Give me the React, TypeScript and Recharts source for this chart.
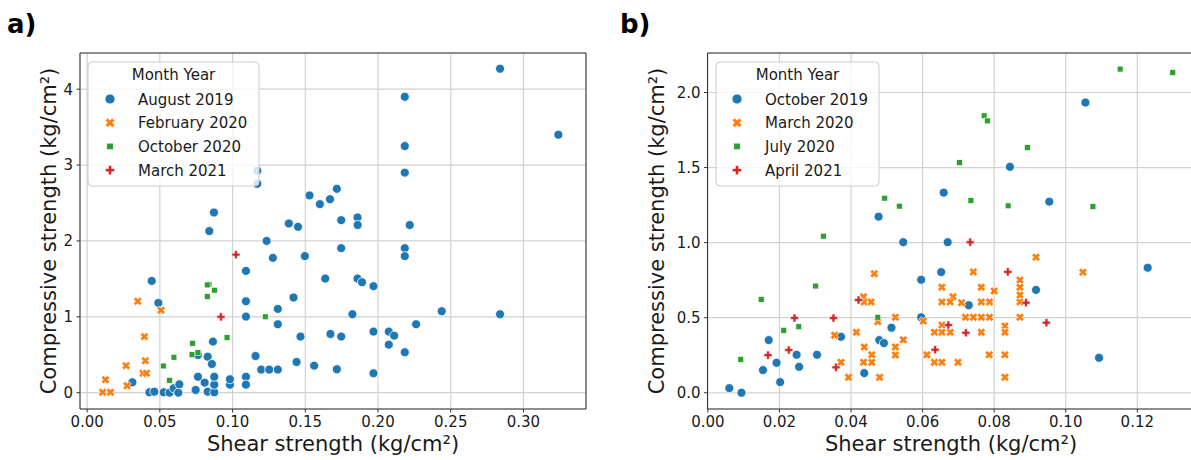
import { CartesianGrid, ReferenceArea, Scatter, ScatterChart, XAxis, YAxis } from 'recharts'

const FONT = '"DejaVu Sans", "Noto Sans", sans-serif'

const BLUE = '#1f77b4'
const ORANGE = '#ff7f0e'
const GREEN = '#2ca02c'
const RED = '#d62728'

type Pt = [number, number]
type Kind = 'circle' | 'x' | 'square' | 'plus'

// panel a — shear (x) vs compressive (y), kg/cm²
const AUG_2019: Pt[] = [
  [0.2839, 4.27], [0.324, 3.4], [0.2184, 3.9], [0.2184, 3.25], [0.2184, 2.9],
  [0.117, 2.925], [0.117, 2.753], [0.0872, 2.375], [0.084, 2.13], [0.1387, 2.23],
  [0.145, 2.186], [0.1529, 2.6], [0.16, 2.485], [0.167, 2.55], [0.1717, 2.687],
  [0.1747, 2.274], [0.1859, 2.31], [0.186, 2.21], [0.2218, 2.21], [0.1234, 2.0],
  [0.1277, 1.777], [0.1497, 1.8], [0.1092, 1.605], [0.0444, 1.473], [0.049, 1.183],
  [0.1092, 1.205], [0.1092, 1.003], [0.1311, 1.104], [0.1311, 0.902], [0.1419, 1.254],
  [0.1467, 0.739], [0.144, 0.405], [0.1158, 0.484], [0.1197, 0.304], [0.1252, 0.304],
  [0.1311, 0.304], [0.0311, 0.137], [0.0428, 0.005], [0.0462, 0.013], [0.0526, 0.005],
  [0.0567, 0.0], [0.0595, 0.058], [0.0627, 0.0], [0.0634, 0.11], [0.0746, 0.036],
  [0.0762, 0.21], [0.0808, 0.132], [0.0829, 0.013], [0.0874, 0.005], [0.0874, 0.106],
  [0.0874, 0.21], [0.0829, 0.475], [0.0762, 0.497], [0.0858, 0.378], [0.0865, 0.673],
  [0.0982, 0.106], [0.0982, 0.177], [0.1092, 0.21], [0.1092, 0.106], [0.1747, 1.905],
  [0.2184, 1.905], [0.2184, 1.8], [0.1637, 1.504], [0.1859, 1.504], [0.189, 1.456],
  [0.1969, 1.404], [0.1824, 1.034], [0.2438, 1.074], [0.2839, 1.034], [0.2262, 0.902],
  [0.1969, 0.805], [0.2074, 0.805], [0.2111, 0.752], [0.2074, 0.633], [0.2184, 0.533],
  [0.1673, 0.774], [0.1747, 0.739], [0.1561, 0.356], [0.1717, 0.309], [0.1969, 0.256],
]
const FEB_2020: Pt[] = [
  [0.0348, 1.205], [0.0508, 1.087], [0.0394, 0.739], [0.04, 0.422], [0.0385, 0.256],
  [0.0408, 0.256], [0.0268, 0.356], [0.0275, 0.092], [0.0126, 0.172], [0.0107, 0.005],
  [0.016, 0.005],
]
const OCT_2020: Pt[] = [
  [0.0838, 1.43], [0.0826, 1.42], [0.0876, 1.351], [0.0826, 1.267], [0.1225, 1.0],
  [0.0524, 0.352], [0.0567, 0.163], [0.0597, 0.467], [0.0725, 0.651], [0.0721, 0.502],
  [0.0762, 0.528], [0.0962, 0.726],
]
const MAR_2021: Pt[] = [[0.1023, 1.82], [0.092, 1.0]]

// panel b
const OCT_2019: Pt[] = [
  [0.0477, 1.173], [0.0659, 1.333], [0.1055, 1.933], [0.0844, 1.505], [0.0954, 1.273],
  [0.0546, 1.003], [0.0652, 0.804], [0.0596, 0.753], [0.0596, 0.503], [0.0513, 0.433],
  [0.0372, 0.373], [0.0479, 0.351], [0.0492, 0.331], [0.017, 0.351], [0.0154, 0.151],
  [0.0192, 0.2], [0.0202, 0.071], [0.0248, 0.253], [0.0255, 0.173], [0.0305, 0.253],
  [0.0437, 0.131], [0.006, 0.031], [0.0094, 0.0], [0.067, 1.003], [0.1229, 0.833],
  [0.0917, 0.685], [0.0729, 0.583], [0.1093, 0.233],
]
const MAR_2020: Pt[] = [
  [0.0465, 0.793], [0.0435, 0.64], [0.0437, 0.605], [0.0456, 0.605], [0.0475, 0.473],
  [0.0524, 0.503], [0.0602, 0.478], [0.0415, 0.403], [0.0354, 0.383], [0.0546, 0.353],
  [0.0524, 0.305], [0.0524, 0.251], [0.0437, 0.305], [0.0458, 0.253], [0.0435, 0.203],
  [0.0458, 0.203], [0.0372, 0.203], [0.0393, 0.103], [0.048, 0.103], [0.0612, 0.253],
  [0.0633, 0.203], [0.0633, 0.403], [0.0917, 0.903], [0.1048, 0.803], [0.0742, 0.805],
  [0.0654, 0.703], [0.0685, 0.64], [0.0764, 0.703], [0.08, 0.678], [0.0872, 0.751],
  [0.0872, 0.703], [0.0872, 0.651], [0.0872, 0.605], [0.0654, 0.605], [0.0677, 0.605],
  [0.0709, 0.6], [0.0764, 0.605], [0.0787, 0.605], [0.072, 0.503], [0.0742, 0.503],
  [0.0764, 0.503], [0.0787, 0.503], [0.0872, 0.503], [0.0654, 0.451], [0.0654, 0.403],
  [0.0677, 0.403], [0.0764, 0.403], [0.083, 0.445], [0.083, 0.403], [0.0654, 0.203],
  [0.0699, 0.203], [0.0786, 0.253], [0.083, 0.253], [0.083, 0.103],
]
const JUL_2020: Pt[] = [
  [0.0494, 1.296], [0.0535, 1.243], [0.1152, 2.156], [0.1299, 2.133], [0.0772, 1.845],
  [0.0781, 1.811], [0.0893, 1.633], [0.0703, 1.533], [0.0735, 1.28], [0.0839, 1.245],
  [0.1076, 1.24], [0.0323, 1.043], [0.0301, 0.711], [0.0149, 0.622], [0.0475, 0.503],
  [0.0212, 0.416], [0.0254, 0.44], [0.0092, 0.222],
]
const APR_2021: Pt[] = [
  [0.0421, 0.618], [0.0242, 0.498], [0.0351, 0.498], [0.0635, 0.287], [0.0358, 0.169],
  [0.0226, 0.285], [0.0168, 0.251], [0.0733, 1.003], [0.0838, 0.805], [0.0889, 0.6],
  [0.0946, 0.467], [0.0672, 0.451], [0.0721, 0.4],
]

const X_TICKS_A = [0, 0.05, 0.1, 0.15, 0.2, 0.25, 0.3]
const Y_TICKS_A = [0, 1, 2, 3, 4]
const X_TICKS_B = [0, 0.02, 0.04, 0.06, 0.08, 0.1, 0.12]
const Y_TICKS_B = [0, 0.5, 1, 1.5, 2]

type Series = { name: string; color: string; kind: Kind; data: Pt[] }

const SERIES_A: Series[] = [
  { name: 'August 2019', color: BLUE, kind: 'circle', data: AUG_2019 },
  { name: 'February 2020', color: ORANGE, kind: 'x', data: FEB_2020 },
  { name: 'October 2020', color: GREEN, kind: 'square', data: OCT_2020 },
  { name: 'March 2021', color: RED, kind: 'plus', data: MAR_2021 },
]
const SERIES_B: Series[] = [
  { name: 'October 2019', color: BLUE, kind: 'circle', data: OCT_2019 },
  { name: 'March 2020', color: ORANGE, kind: 'x', data: MAR_2020 },
  { name: 'July 2020', color: GREEN, kind: 'square', data: JUL_2020 },
  { name: 'April 2021', color: RED, kind: 'plus', data: APR_2021 },
]

function crossPath(h: number, w: number, rot: number) {
  const pts = [
    [w, h], [w, w], [h, w], [h, -w], [w, -w], [w, -h],
    [-w, -h], [-w, -w], [-h, -w], [-h, w], [-w, w], [-w, h],
  ]
  const c = Math.cos(rot)
  const s = Math.sin(rot)
  return 'M' + pts.map(([x, y]) => `${(x * c - y * s).toFixed(2)},${(x * s + y * c).toFixed(2)}`).join('L') + 'Z'
}

function Glyph({ kind, color, x, y, k = 1 }: { kind: Kind; color: string; x: number; y: number; k?: number }) {
  if (kind === 'circle') {
    return <circle cx={x} cy={y} r={4.5 * k} fill={color} stroke="#fff" strokeWidth={0.8} />
  }
  if (kind === 'square') {
    const s = 5.8 * k
    return <rect x={x - s / 2} y={y - s / 2} width={s} height={s} fill={color} stroke="#fff" strokeWidth={0.6} />
  }
  const d = kind === 'x' ? crossPath(4.4 * k, 1.6 * k, Math.PI / 4) : crossPath(4.1 * k, 1.45 * k, 0)
  return <path transform={`translate(${x},${y})`} d={d} fill={color} stroke="#fff" strokeWidth={0.6} />
}

function Panel({
  series, xDomain, yDomain, xTicks, yTicks, xFmt, yFmt, width, margin,
}: {
  series: Series[]
  xDomain: [number, number]
  yDomain: [number, number]
  xTicks: number[]
  yTicks: number[]
  xFmt: (v: number) => string
  yFmt: (v: number) => string
  width: number
  margin: { top: number; right: number; bottom: number; left: number }
}) {
  const tick = { fill: '#1a1a1a', fontSize: 15, fontFamily: FONT }
  return (
    <ScatterChart width={width} height={460} margin={margin}>
      <CartesianGrid stroke="#d2d2d2" strokeWidth={1.2} />
      <XAxis
        type="number"
        dataKey="x"
        domain={xDomain}
        allowDataOverflow
        ticks={xTicks}
        tickFormatter={xFmt}
        height={30}
        tick={tick}
        tickSize={3.5}
        tickMargin={4}
        tickLine={{ stroke: '#333' }}
        axisLine={false}
        interval={0}
      />
      <YAxis
        type="number"
        dataKey="y"
        domain={yDomain}
        allowDataOverflow
        ticks={yTicks}
        tickFormatter={yFmt}
        width={40}
        tick={tick}
        tickSize={3.5}
        tickMargin={3.5}
        tickLine={{ stroke: '#333' }}
        axisLine={false}
        interval={0}
      />
      {series.map((s) => (
        <Scatter
          key={s.name}
          name={s.name}
          data={s.data.map(([x, y]) => ({ x, y }))}
          isAnimationActive={false}
          shape={(p: any) => <Glyph kind={s.kind} color={s.color} x={p.cx} y={p.cy} />}
        />
      ))}
      <ReferenceArea
        x1={xDomain[0]}
        x2={xDomain[1]}
        y1={yDomain[0]}
        y2={yDomain[1]}
        fill="none"
        stroke="#333"
        strokeWidth={1}
        ifOverflow="visible"
      />
    </ScatterChart>
  )
}

function LegendBox({ series, x, y, w, markerX, textX }: { series: Series[]; x: number; y: number; w: number; markerX: number; textX: number }) {
  return (
    <g fontFamily={FONT} fontSize={15} fill="#1a1a1a">
      <rect x={x} y={y} width={w} height={124} rx={4} fill="#fff" fillOpacity={0.8} stroke="#cccccc" />
      <text x={x + w / 2} y={y + 18} textAnchor="middle">Month Year</text>
      {series.map((s, i) => (
        <g key={s.name}>
          <Glyph kind={s.kind} color={s.color} x={markerX} y={y + 37 + i * 23.7} k={1.12} />
          <text x={textX} y={y + 42.5 + i * 23.7}>{s.name}</text>
        </g>
      ))}
    </g>
  )
}

export default function App() {
  const title = 'Compressive strength (kg/cm²)'
  const xTitle = 'Shear strength (kg/cm²)'
  return (
    <div style={{ position: 'absolute', left: 0, top: 0, width: 1191, height: 460, overflow: 'hidden', background: '#fff' }}>
      <div style={{ position: 'absolute', left: 0, top: 0 }}>
        <Panel
          series={SERIES_A}
          xDomain={[-0.0049, 0.343]}
          yDomain={[-0.215, 4.477]}
          xTicks={X_TICKS_A}
          yTicks={Y_TICKS_A}
          xFmt={(v) => v.toFixed(2)}
          yFmt={(v) => String(v)}
          width={600}
          margin={{ top: 53, right: 14, bottom: 21, left: 40 }}
        />
      </div>
      <div style={{ position: 'absolute', left: 600, top: 0 }}>
        <Panel
          series={SERIES_B}
          xDomain={[-0.0001, 0.1362]}
          yDomain={[-0.108, 2.263]}
          xTicks={X_TICKS_B}
          yTicks={Y_TICKS_B}
          xFmt={(v) => v.toFixed(2)}
          yFmt={(v) => v.toFixed(1)}
          width={620}
          margin={{ top: 53, right: 24.7, bottom: 21, left: 67.5 }}
        />
      </div>
      <svg width={1191} height={460} style={{ position: 'absolute', left: 0, top: 0, pointerEvents: 'none' }}>
        <text x={7} y={33} fontFamily={FONT} fontSize={26} fontWeight="bold" fill="#000">a)</text>
        <text x={620} y={33} fontFamily={FONT} fontSize={26} fontWeight="bold" fill="#000">b)</text>
        <g fontFamily={FONT} fontSize={21} fill="#1a1a1a" textAnchor="middle">
          <text x={333} y={451}>{xTitle}</text>
          <text x={951} y={451}>{xTitle}</text>
          <text transform="translate(56,231) rotate(-90)">{title}</text>
          <text transform="translate(664,231) rotate(-90)">{title}</text>
        </g>
        <LegendBox series={SERIES_A} x={88} y={62} w={171} markerX={110} textX={138} />
        <LegendBox series={SERIES_B} x={716} y={62} w={163} markerX={737} textX={765} />
      </svg>
    </div>
  )
}
